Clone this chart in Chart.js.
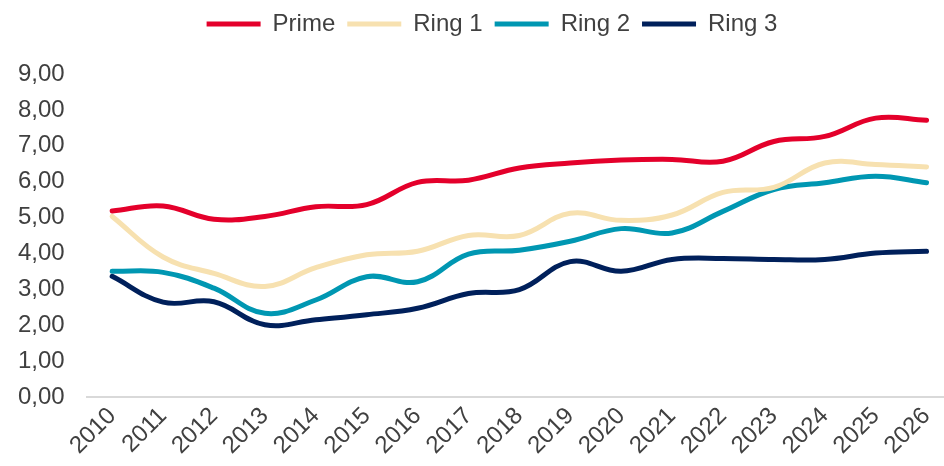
<!DOCTYPE html>
<html>
<head>
<meta charset="utf-8">
<script src="https://cdn.jsdelivr.net/npm/chart.js@4"></script>
<style>
  html, body { margin:0; padding:0; background:#fff; overflow:hidden; }
  body { width:944px; height:466px; }
  #wrap { width:952px; height:466px; }
</style>
</head>
<body>
<div id="wrap"><canvas id="chart"></canvas></div>
<script>
// Years on the x axis
const years = ["2010","2011","2012","2013","2014","2015","2016","2017","2018","2019","2020","2021","2022","2023","2024","2025","2026"];

// Series values
const prime = [5.18,5.32,4.95,5.03,5.30,5.36,5.98,6.04,6.38,6.52,6.60,6.62,6.57,7.12,7.26,7.77,7.71];
const ring1 = [5.03,3.90,3.44,3.08,3.60,3.96,4.06,4.50,4.50,5.12,4.92,5.07,5.70,5.84,6.52,6.48,6.41];
const ring2 = [3.50,3.47,3.03,2.33,2.70,3.35,3.21,3.98,4.09,4.34,4.69,4.57,5.17,5.78,5.97,6.15,5.97];
const ring3 = [3.36,2.64,2.65,2.01,2.15,2.29,2.47,2.88,2.99,3.77,3.50,3.83,3.86,3.83,3.83,4.01,4.06];

// y ticks 0..9
const yMin = 0, yMax = 9, yStep = 1;

const textColor = "#404040";
Chart.defaults.font.family = "'Liberation Sans', Arial, sans-serif";
Chart.defaults.font.size = 24;
Chart.defaults.color = textColor;

function series(label, data, color){
  return {
    label: label,
    data: data,
    borderColor: color,
    backgroundColor: color,
    borderWidth: 5,
    borderCapStyle: "round",
    borderJoinStyle: "round",
    pointRadius: 0,
    pointHoverRadius: 0,
    tension: 0.4,
    fill: false
  };
}

// extra room under the legend, and nudge it a bit to the right
const legendGap = {
  id: "legendGap",
  beforeInit(chart){
    const fit = chart.legend.fit;
    chart.legend.fit = function(){
      fit.bind(chart.legend)();
      this.height += 28;
    };
  },
  afterLayout(chart){
    chart.legend.left += 36;
    chart.legend.right += 0;
  }
};

new Chart(document.getElementById("chart").getContext("2d"), {
  type: "line",
  data: {
    labels: years,
    datasets: [
      series("Prime", prime, "#E4002B"),
      series("Ring 1", ring1, "#F7E1B0"),
      series("Ring 2", ring2, "#0097B2"),
      series("Ring 3", ring3, "#00205B")
    ]
  },
  plugins: [legendGap],
  options: {
    responsive: true,
    maintainAspectRatio: false,
    animation: false,
    layout: { padding: { top: 0, right: 0, left: -4, bottom: 1 } },
    plugins: {
      legend: {
        position: "top",
        labels: {
          usePointStyle: true,
          pointStyle: "line",
          pointStyleWidth: 54,
          padding: 12,
          color: textColor,
          font: { size: 24 }
        }
      },
      tooltip: { enabled: false }
    },
    scales: {
      x: {
        offset: true,
        grid: { display: false, drawTicks: false },
        border: { display: true, color: "#d9d9d9", width: 2 },
        ticks: { minRotation: 45, maxRotation: 45, padding: 5, autoSkip: false, color: textColor }
      },
      y: {
        min: yMin, max: yMax,
        grid: { display: false, drawTicks: false },
        border: { display: false },
        ticks: {
          stepSize: yStep,
          padding: 22,
          color: textColor,
          callback: v => v.toFixed(2).replace(".", ",")
        }
      }
    }
  }
});
</script>
</body>
</html>
